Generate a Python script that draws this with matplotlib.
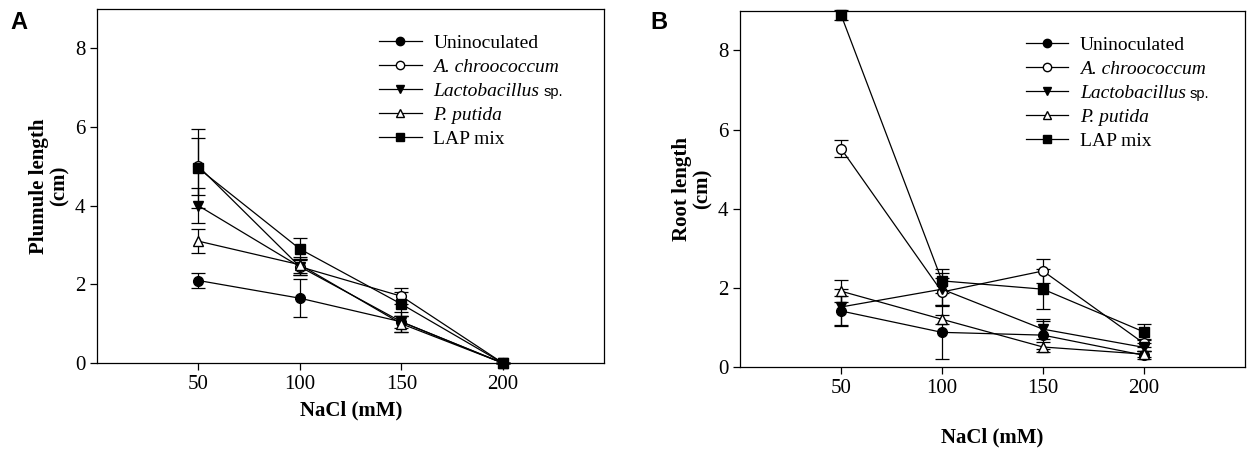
import matplotlib
matplotlib.use('Agg')
import matplotlib.pyplot as plt
from matplotlib.lines import Line2D
import numpy as np

# NaCl levels (mM)
nacl = [50, 100, 150, 200]
names = ['Uninoculated', 'A. chroococcum', 'Lactobacillus', 'P. putida', 'LAP mix']
italic = [False, True, True, True, False]

# panel A: plumule length (cm)
plum_unin = [2.1, 1.65, 1.05, 0.0]
plum_achr = [5.0, 2.45, 1.7, 0.0]
plum_lact = [4.0, 2.45, 1.05, 0.0]
plum_pput = [3.1, 2.5, 1.0, 0.0]
plum_lap = [4.95, 2.9, 1.5, 0.0]
plum_unin_err = [0.2, 0.48, 0.15, 0.0]
plum_achr_err = [0.72, 0.2, 0.2, 0.0]
plum_lact_err = [0.45, 0.2, 0.25, 0.0]
plum_pput_err = [0.3, 0.2, 0.2, 0.0]
plum_lap_err = [1.0, 0.28, 0.3, 0.0]

# panel B: root length (cm)
root_unin = [1.42, 0.88, 0.81, 0.3]
root_achr = [5.52, 1.9, 2.43, 0.6]
root_lact = [1.52, 1.97, 0.96, 0.5]
root_pput = [1.92, 1.21, 0.51, 0.33]
root_lap = [8.9, 2.18, 1.97, 0.89]
root_unin_err = [0.38, 0.68, 0.35, 0.1]
root_achr_err = [0.22, 0.35, 0.3, 0.1]
root_lact_err = [0.45, 0.4, 0.25, 0.1]
root_pput_err = [0.28, 0.12, 0.12, 0.08]
root_lap_err = [0.12, 0.3, 0.5, 0.2]

markers = [('o', 'black'), ('o', 'white'), ('v', 'black'), ('^', 'white'), ('s', 'black')]

plt.rcParams['font.family'] = 'Liberation Serif'

fig = plt.figure(figsize=(12.53, 4.5), dpi=100)
ax1 = fig.add_axes([0.0774, 0.193, 0.405, 0.787])
ax2 = fig.add_axes([0.5906, 0.184, 0.403, 0.792])


def panel(ax, series, errs, ylabel, legx, xlabelpad):
    handles = []
    for (m, fc), y, e in zip(markers, series, errs):
        ax.errorbar(nacl, y, yerr=e, color='black', marker=m, mfc=fc, mec='black',
                    markersize=7, lw=0.9, elinewidth=0.9, capsize=5, capthick=0.9,
                    clip_on=False)
        handles.append(Line2D([], [], color='black', marker=m, mfc=fc, mec='black',
                              markersize=6, lw=0.9))
    ax.set_xlim(0, 250)
    ax.set_ylim(0, 9)
    ax.set_xticks(nacl)
    ax.set_yticks([0, 2, 4, 6, 8])
    ax.tick_params(labelsize=15, direction='out', length=5, width=0.9,
                   top=False, right=False)
    for s in ax.spines.values():
        s.set_linewidth(0.9)
    ax.set_ylabel(ylabel, fontsize=15, fontweight='bold', linespacing=1.0)
    ax.set_xlabel('NaCl (mM)', fontsize=15, fontweight='bold', labelpad=xlabelpad)
    leg = ax.legend(handles, names, loc='upper left', bbox_to_anchor=(legx, 0.95),
                    frameon=False, fontsize=14, handlelength=2.2, handletextpad=0.6,
                    labelspacing=0.33, borderaxespad=0)
    for t, it in zip(leg.get_texts(), italic):
        if it:
            t.set_fontstyle('italic')
    return leg


leg1 = panel(ax1, [plum_unin, plum_achr, plum_lact, plum_pput, plum_lap],
             [plum_unin_err, plum_achr_err, plum_lact_err, plum_pput_err, plum_lap_err],
             'Plumule length\n(cm)', 0.54, 5)
leg2 = panel(ax2, [root_unin, root_achr, root_lact, root_pput, root_lap],
             [root_unin_err, root_achr_err, root_lact_err, root_pput_err, root_lap_err],
             'Root length\n(cm)', 0.55, 21)

fig.text(0.008, 0.935, 'A', fontsize=17, fontweight='bold', family='Liberation Sans')
fig.text(0.519, 0.935, 'B', fontsize=17, fontweight='bold', family='Liberation Sans')

# small sans "sp." after Lactobacillus
fig.canvas.draw()
r = fig.canvas.get_renderer()
for leg in (leg1, leg2):
    bb = leg.get_texts()[2].get_window_extent(r)
    fig.text((bb.x1 + 4) / fig.bbox.width, (bb.y0 + 4) / fig.bbox.height, 'sp.',
             fontsize=10.5, family='Liberation Sans', va='baseline')

fig.savefig('out.png', dpi=100)
